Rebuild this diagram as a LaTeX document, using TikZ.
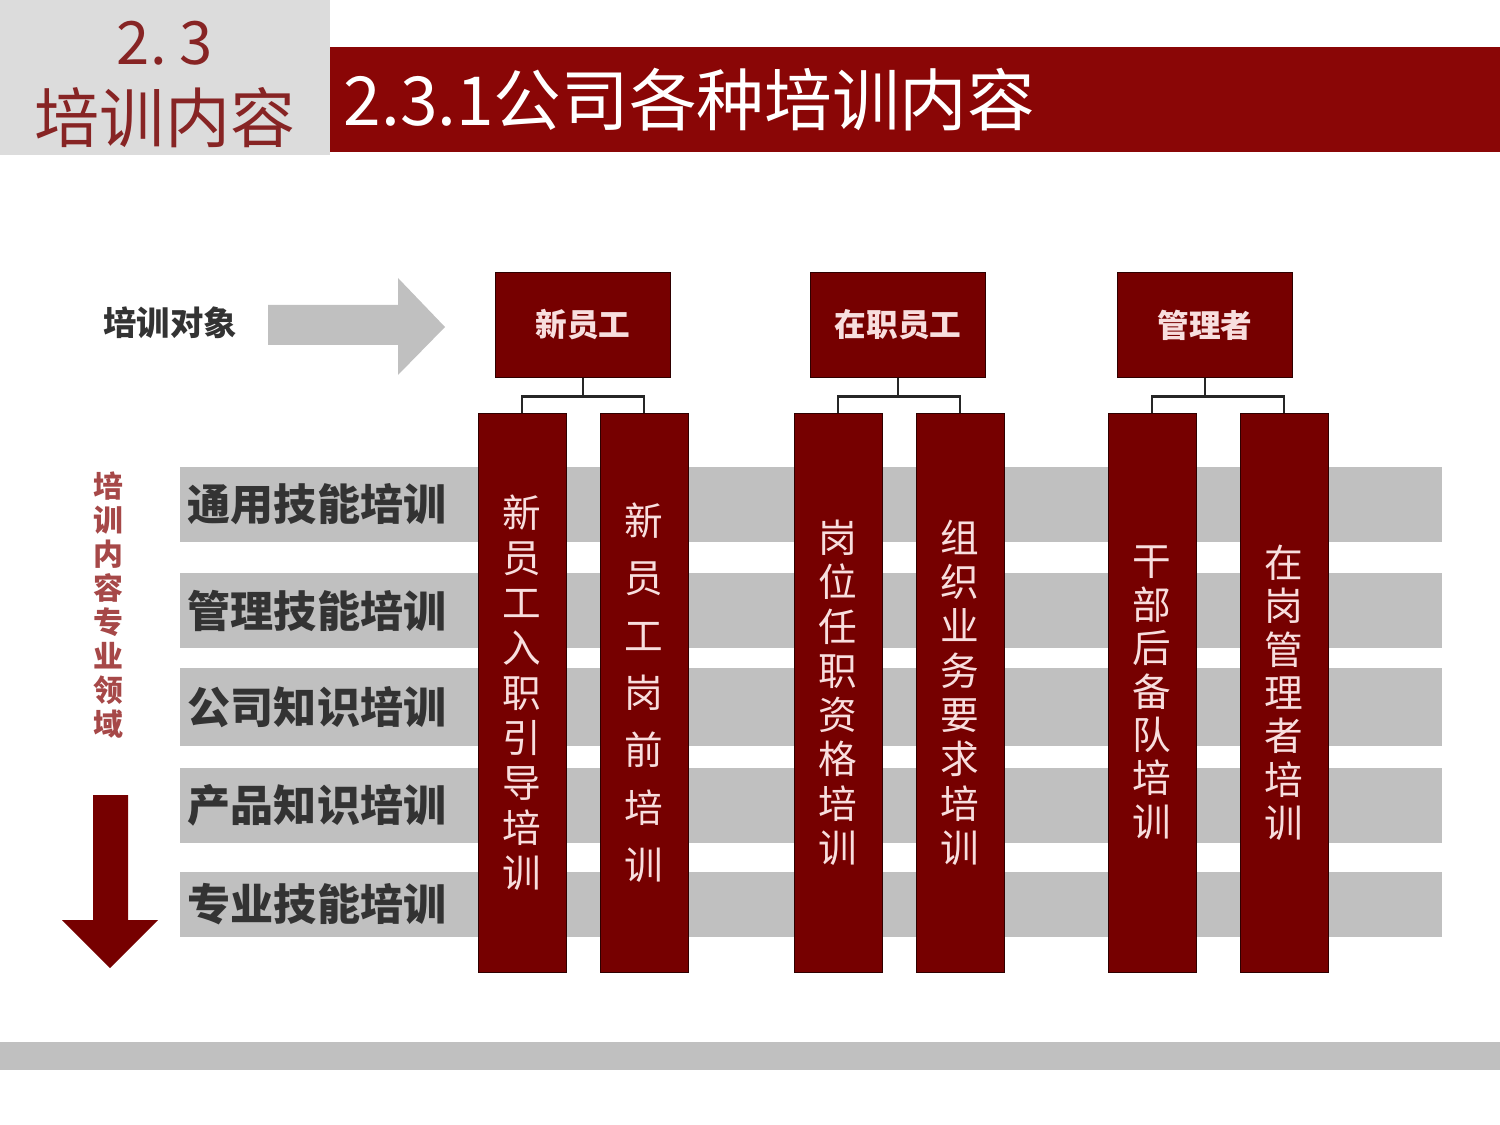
\documentclass[tikz,border=0pt]{standalone}
\usepackage{fontspec}
\setmainfont{Noto Sans CJK SC}
\usetikzlibrary{positioning}
\definecolor{darkred}{RGB}{118,0,0}
\definecolor{titlered}{RGB}{138,6,6}
\definecolor{softred}{RGB}{150,40,40}
\definecolor{bandgray}{RGB}{192,192,192}
\definecolor{headgray}{RGB}{220,220,220}
\definecolor{paletext}{RGB}{248,222,222}
\tikzstyle{target} = [rectangle, minimum width=3.5cm, minimum height=2.1cm, text centered, draw=black!60!darkred, fill=darkred, text=paletext, font=\fontsize{18}{20}\selectfont\bfseries]
\tikzstyle{course} = [rectangle, minimum width=1.76cm, minimum height=11.18cm, inner sep=0pt, align=center, draw=black!60!darkred, fill=darkred, text=paletext]
\tikzstyle{band} = [rectangle, anchor=west, minimum width=25.24cm, minimum height=1.5cm, text width=24.94cm, inner xsep=0.1cm, align=left, fill=bandgray, text=black!80, font=\fontsize{24.5}{28}\selectfont\bfseries]
\tikzstyle{link} = [line width=1.6pt, draw=black!85]

\begin{document}
\begin{tikzpicture}[node distance=2cm]
 \useasboundingbox (0,0) rectangle (30,-22.5);

 % header
 \fill[headgray] (0,0) rectangle (6.6,-3.1);
 \fill[titlered] (6.6,-0.94) rectangle (30,-3.04);
 \node (secnum) [text=softred!90!black, font=\fontsize{34}{36}\selectfont] at (3.3,-0.86) {2.~3};
 \node (secname) [text=softred!90!black, font=\fontsize{37}{40}\selectfont] at (3.3,-2.36) {培训内容};
 \node (title) [anchor=west, text=white, font=\fontsize{38.5}{40}\selectfont] at (6.75,-2.0) {2.3.1公司各种培训内容};

 % training rows
 \node (general) [band] at (3.6,-10.09) {通用技能培训};
 \node (manage) [band] at (3.6,-12.21) {管理技能培训};
 \node (company) [band, minimum height=1.56cm] at (3.6,-14.14) {公司知识培训};
 \node (product) [band] at (3.6,-16.11) {产品知识培训};
 \node (special) [band, minimum height=1.3cm] at (3.6,-18.09) {专业技能培训};

 % left side labels
 \node (objlabel) [text=black!80, font=\fontsize{19}{22}\selectfont\bfseries] at (3.4,-6.46) {培训对象};
 \fill[bandgray] (5.36,-6.1) -- (7.96,-6.1) -- (7.96,-5.56) -- (8.9,-6.54) -- (7.96,-7.5) -- (7.96,-6.9) -- (5.36,-6.9) -- cycle;
 \node (fieldlabel) [align=center, text=softred!85, font=\fontsize{17}{19.4}\selectfont\bfseries] at (2.16,-12.1) {培\\训\\内\\容\\专\\业\\领\\域};
 \fill[darkred] (1.86,-15.9) -- (2.56,-15.9) -- (2.56,-18.4) -- (3.16,-18.4) -- (2.2,-19.36) -- (1.24,-18.4) -- (1.86,-18.4) -- cycle;

 % training targets
 \node (newstaff) [target] at (11.66,-6.5) {新员工};
 \node (onjob) [target, right of=newstaff, node distance=6.3cm] {在职员工};
 \node (manager) [target, right of=onjob, node distance=6.14cm] {管理者};

 % training courses
 \node (induct) [course, below=0.7cm of newstaff, xshift=-1.22cm, font=\fontsize{22}{25.6}\selectfont] {新\\员\\工\\入\\职\\引\\导\\培\\训};
 \node (prejob) [course, below=0.7cm of newstaff, xshift=1.22cm, font=\fontsize{22}{32.7}\selectfont] {新\\员\\工\\岗\\前\\培\\训};
 \node (qualify) [course, below=0.7cm of onjob, xshift=-1.2cm, font=\fontsize{22}{25.2}\selectfont] {岗\\位\\任\\职\\资\\格\\培\\训};
 \node (business) [course, below=0.7cm of onjob, xshift=1.24cm, font=\fontsize{22}{25.2}\selectfont] {组\\织\\业\\务\\要\\求\\培\\训};
 \node (reserve) [course, below=0.7cm of manager, xshift=-1.06cm, font=\fontsize{22}{24.7}\selectfont] {干\\部\\后\\备\\队\\培\\训};
 \node (inpost) [course, below=0.7cm of manager, xshift=1.58cm, font=\fontsize{22}{24.7}\selectfont] {在\\岗\\管\\理\\者\\培\\训};

 % connectors
 \draw [link] (newstaff.south) -- ++(0,-0.38) -| (induct.north);
 \draw [link] (newstaff.south) -- ++(0,-0.38) -| (prejob.north);
 \draw [link] (onjob.south) -- ++(0,-0.38) -| (qualify.north);
 \draw [link] (onjob.south) -- ++(0,-0.38) -| (business.north);
 \draw [link] (manager.south) -- ++(0,-0.38) -| (reserve.north);
 \draw [link] (manager.south) -- ++(0,-0.38) -| (inpost.north);

 % footer
 \fill[bandgray] (0,-20.84) rectangle (30,-21.4);
\end{tikzpicture}
\end{document}
